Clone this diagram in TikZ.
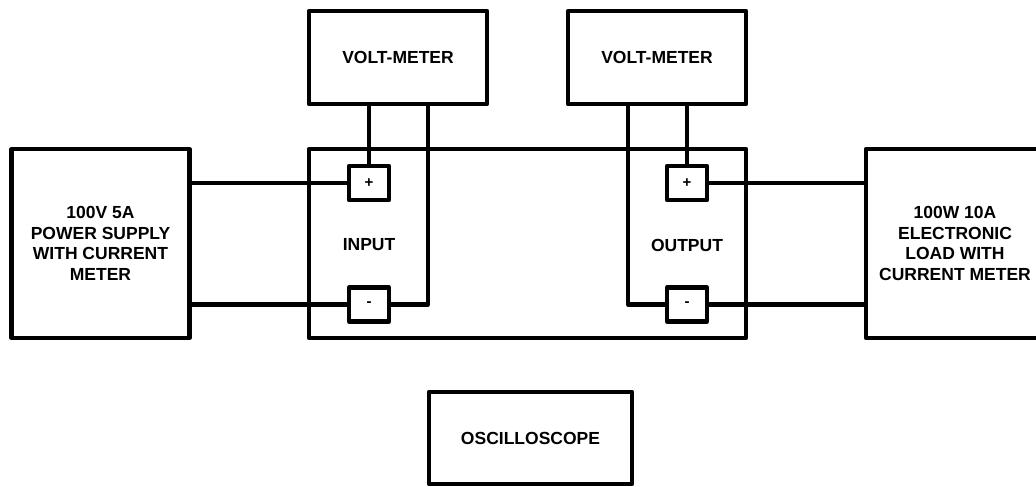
\documentclass[tikz,border=0pt]{standalone}
\usepackage{fontspec}
\setmainfont{Liberation Sans}
\begin{document}
\begin{tikzpicture}[x=1pt,y=-1pt,
  lw/.style={line width=4.2pt,line join=round},
  blk/.style={lw,draw,rectangle,inner sep=0pt,minimum width=178pt,font=\fontsize{17.5}{20.7}\selectfont\bfseries,align=center},
  term/.style={lw,draw,rectangle,inner sep=0pt,minimum width=40pt,minimum height=34pt,font=\fontsize{15}{18}\selectfont\bfseries},
  lbl/.style={inner sep=0pt,font=\fontsize{17.5}{20.7}\selectfont\bfseries},
  wire/.style={lw}]
\useasboundingbox (0,0) rectangle (1036,487);
\clip (0,0) rectangle (1036,487);
% blocks
\node[blk,minimum height=189pt] (ps) at (100.5,243.5) {100V 5A\\POWER SUPPLY\\WITH CURRENT\\METER};
\node[blk,minimum height=189pt] (ld) at (955,243.5) {100W 10A\\ELECTRONIC\\LOAD WITH\\CURRENT METER};
\node[lw,draw,rectangle,inner sep=0pt,minimum width=437pt,minimum height=189pt] (dut) at (527.5,243.5) {};
\node[blk,minimum height=93pt] (vm1) at (398,57.5) {VOLT-METER};
\node[blk,minimum height=93pt] (vm2) at (657,57.5) {VOLT-METER};
\node[blk,minimum width=203pt,minimum height=92pt] (osc) at (530.5,438) {OSCILLOSCOPE};
% labels
\node[lbl] (inl) at (369,245) {INPUT};
\node[lbl] (outl) at (687,245) {OUTPUT};
% terminals
\node[term] (ip) at (369,183) {+};
\node[term] (in) at (369,304.5) {-};
\node[term] (op) at (687,183) {+};
\node[term] (on) at (687,304.5) {-};
% coordinates for meter leads
\coordinate (vm1r) at (428,104);
\coordinate (vm2l) at (628,104);
% wires
\draw[wire] (ps.east |- ip) -- (ip.west);
\draw[wire] (ps.east |- in) -- (in.west);
\draw[wire] (vm1.south -| ip) -- (ip.north);
\draw[wire] (in.east) -| (vm1r);
\draw[wire] (vm2.south -| op) -- (op.north);
\draw[wire] (on.west) -| (vm2l);
\draw[wire] (op.east) -- (op -| ld.west);
\draw[wire] (on.east) -- (on -| ld.west);
\end{tikzpicture}
\end{document}
